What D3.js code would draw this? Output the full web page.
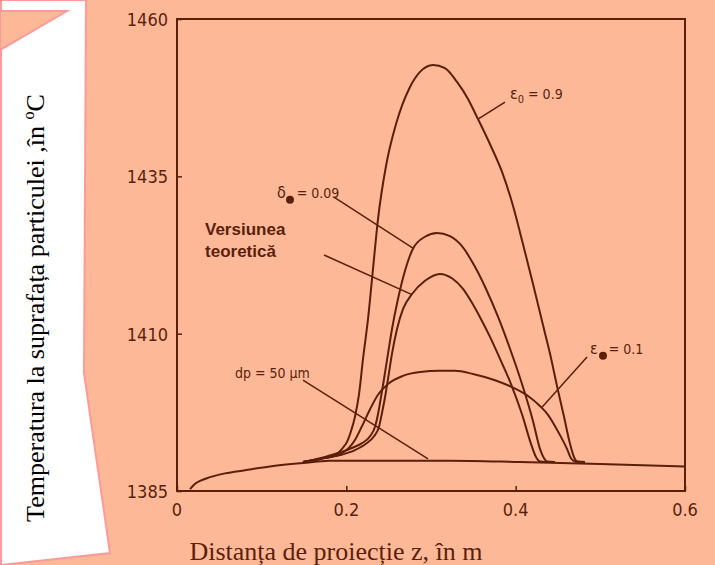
<!DOCTYPE html>
<html lang="ro">
<head>
<meta charset="UTF-8">
<title>Temperatura la suprafata particulei</title>
<script src="https://d3js.org/d3.v7.min.js"></script>
<style>
    body { margin: 0; background: #fdb997; }
    svg { display: block; }
    .tick-label { font-family: 'DejaVu Sans Condensed', sans-serif; font-size: 18px; fill: #5b1f0b; }
    .note { font-family: 'DejaVu Sans Condensed', sans-serif; font-size: 14px; fill: #5b1f0b; }
    .serif { font-family: 'Liberation Serif', 'Times New Roman', serif; }
</style>
</head>
<body>
<script>
// values: [z (m), T (°C)]
const xTicks = [0, 0.2, 0.4, 0.6];
const yTicks = [1385, 1410, 1435, 1460];

const dpCurve = [[0.0154,1385.3],[0.0201,1386.0],[0.0272,1386.6],[0.039,1387.2],[0.0567,1387.8],[0.0803,1388.3],
    [0.1098,1388.9],[0.1453,1389.4],[0.1807,1389.8],[0.2398,1389.8],[0.3224,1389.8],[0.4051,1389.6],[0.4996,1389.3],[0.6,1388.9]];

const eps09 = [[0.1488,1389.6],[0.1689,1390.1],[0.1866,1390.7],[0.1949,1391.7],[0.2008,1392.8],[0.2055,1394.5],[0.2102,1396.8],
    [0.215,1400.4],[0.2197,1406.0],[0.2256,1412.3],[0.2315,1420.3],[0.2374,1428.2],[0.2468,1436.6],[0.2587,1443.3],[0.2752,1449.2],
    [0.287,1451.6],[0.3024,1452.7],[0.3165,1452.2],[0.3307,1450.0],[0.3437,1447.3],[0.3555,1444.1],[0.3697,1440.1],[0.3839,1435.7],
    [0.3969,1430.3],[0.4087,1424.2],[0.4205,1417.9],[0.4311,1412.0],[0.4406,1406.8],[0.4488,1401.7],[0.4571,1396.8],[0.4642,1392.5],
    [0.4689,1390.4],[0.4724,1389.7],[0.4819,1389.6]];

const delta009 = [[0.1488,1389.6],[0.1689,1390.2],[0.1866,1390.9],[0.2043,1391.7],[0.2185,1392.6],[0.228,1393.7],[0.2339,1395.2],
    [0.2374,1397.2],[0.2409,1399.9],[0.2445,1402.8],[0.2492,1406.8],[0.2539,1410.7],[0.261,1415.5],[0.2693,1420.0],[0.2787,1423.5],
    [0.2929,1425.4],[0.3071,1426.0],[0.3224,1425.5],[0.3366,1423.9],[0.3508,1420.9],[0.365,1417.1],[0.3791,1412.7],[0.3933,1407.6],
    [0.4075,1402.0],[0.4205,1396.1],[0.4287,1391.7],[0.4335,1390.2],[0.437,1389.7],[0.4465,1389.6]];

const teoretic = [[0.1488,1389.6],[0.1689,1390.1],[0.1925,1390.7],[0.2102,1391.5],[0.2232,1392.5],[0.2327,1393.7],[0.2386,1395.2],
    [0.2421,1397.4],[0.2457,1399.9],[0.2492,1402.8],[0.2539,1406.8],[0.2598,1410.7],[0.2669,1413.9],[0.2776,1416.3],[0.2929,1418.4],
    [0.3106,1419.5],[0.3248,1418.8],[0.3378,1417.1],[0.3484,1414.9],[0.3591,1412.3],[0.3697,1409.5],[0.3815,1406.0],[0.3945,1402.0],
    [0.4075,1397.2],[0.4181,1392.5],[0.424,1390.4],[0.4287,1389.7],[0.437,1389.6]];

const eps01 = [[0.1488,1389.6],[0.1689,1390.1],[0.1807,1390.4],[0.1925,1390.9],[0.202,1391.7],[0.2102,1393.1],[0.2185,1395.3],
    [0.228,1398.0],[0.2374,1400.3],[0.2492,1402.0],[0.2669,1403.3],[0.287,1403.9],[0.3106,1404.1],[0.3283,1404.1],[0.3496,1403.6],
    [0.3756,1402.6],[0.3957,1401.5],[0.4146,1400.1],[0.4287,1398.5],[0.4382,1397.1],[0.4465,1395.3],[0.4535,1393.6],[0.4606,1391.7],
    [0.4653,1390.2],[0.4701,1389.7],[0.4783,1389.6]];

const curves = [dpCurve, eps09, delta009, teoretic, eps01];

const W = 715, H = 565;
const ink = "#5b1f0b";

const svg = d3.select("body").append("svg")
    .attr("width", W)
    .attr("height", H);

// white paper with folded corner behind the y label
svg.append("polygon")
    .attr("points", "1,0 86,0 84,373 110,553 1,565")
    .attr("fill", "#ffffff")
    .attr("stroke", "#ff9a9a")
    .attr("stroke-width", 2);
svg.append("polygon")
    .attr("points", "0,11 67,11 0,50")
    .attr("fill", "#fdb997")
    .attr("stroke", "#ff9a9a")
    .attr("stroke-width", 2);

const x = d3.scaleLinear().domain([0, 0.6]).range([177, 685]);
const y = d3.scaleLinear().domain([1385, 1460]).range([491, 19]);

// frame
svg.append("rect")
    .attr("x", x(0)).attr("y", y(1460))
    .attr("width", x(0.6) - x(0)).attr("height", y(1385) - y(1460))
    .attr("fill", "none").attr("stroke", ink).attr("stroke-width", 2);

// axes, ticks inward
const xAxis = svg.append("g")
    .attr("transform", `translate(0,${y(1385)})`)
    .call(d3.axisTop(x).tickValues(xTicks).tickSize(5).tickFormat(""));
const yAxis = svg.append("g")
    .attr("transform", `translate(${x(0)},0)`)
    .call(d3.axisRight(y).tickValues(yTicks).tickSize(5).tickFormat(""));
[xAxis, yAxis].forEach(g => {
    g.select(".domain").remove();
    g.selectAll("line").attr("stroke", ink).attr("stroke-width", 1.5);
});

svg.selectAll(".xl")
    .data(xTicks)
    .enter().append("text")
    .attr("class", "tick-label")
    .attr("x", d => x(d))
    .attr("y", 516)
    .attr("text-anchor", "middle")
    .text(d => d === 0 ? "0" : d.toFixed(1));

svg.selectAll(".yl")
    .data(yTicks)
    .enter().append("text")
    .attr("class", "tick-label")
    .attr("x", 168)
    .attr("y", d => y(d) + 7)
    .attr("text-anchor", "end")
    .text(d => d);

// curves
const line = d3.line()
    .x(d => x(d[0]))
    .y(d => y(d[1]))
    .curve(d3.curveMonotoneX);

svg.selectAll(".curve")
    .data(curves)
    .enter().append("path")
    .attr("d", line)
    .attr("fill", "none")
    .attr("stroke", ink)
    .attr("stroke-width", 2);

// leader lines
const leaders = [
    [[0.3874, 1446.8], [0.3555, 1444.1]],
    [[0.1854, 1431.7], [0.2787, 1423.6]],
    [[0.1736, 1422.5], [0.2776, 1416.2]],
    [[0.1488, 1402.6], [0.2965, 1390.1]],
    [[0.4843, 1406.3], [0.4311, 1398.3]]
];
svg.selectAll(".leader")
    .data(leaders)
    .enter().append("line")
    .attr("x1", d => x(d[0][0])).attr("y1", d => y(d[0][1]))
    .attr("x2", d => x(d[1][0])).attr("y2", d => y(d[1][1]))
    .attr("stroke", ink)
    .attr("stroke-width", 1.5);

// labels
const e0 = svg.append("text").attr("class", "note")
    .attr("x", x(0.3933)).attr("y", y(1447.3));
e0.append("tspan").attr("font-size", 16).text("ε");
e0.append("tspan").attr("dy", 4).attr("font-size", 11).text("0");
e0.append("tspan").attr("dy", -4).text(" = 0.9");

function dotLabel(sym, value, px, py) {
    const t = svg.append("text").attr("class", "note")
        .attr("x", x(px)).attr("y", y(py));
    t.append("tspan").attr("font-size", 16).text(sym);
    t.append("tspan").attr("dx", 11).text("= " + value);
    svg.append("circle")
        .attr("cx", x(px) + 13).attr("cy", y(py) + 2)
        .attr("r", 4).attr("fill", ink);
}
dotLabel("δ", "0.09", 0.1181, 1431.6);
dotLabel("ε", "0.1", 0.4878, 1406.8);

svg.append("text").attr("class", "note")
    .attr("x", x(0.0685)).attr("y", y(1403.0))
    .text("dp = 50 µm");

const teo = svg.append("text")
    .attr("font-family", "'Liberation Sans', Arial, sans-serif")
    .attr("font-weight", "bold")
    .attr("font-size", 17)
    .attr("fill", ink);
teo.append("tspan").attr("x", x(0.0331)).attr("y", y(1425.7)).text("Versiunea");
teo.append("tspan").attr("x", x(0.0331)).attr("y", y(1425.7) + 22).text("teoretică");

// axis titles
svg.append("text")
    .attr("class", "serif")
    .attr("font-size", 26)
    .attr("x", 336).attr("y", 560)
    .attr("text-anchor", "middle")
    .attr("fill", ink)
    .text("Distanța de proiecție z, în m");

const yt = svg.append("text")
    .attr("class", "serif")
    .attr("font-size", 26)
    .attr("transform", "translate(44,308) rotate(-90)")
    .attr("text-anchor", "middle")
    .attr("fill", "#000");
yt.append("tspan").text("Temperatura la suprafața particulei ,în ");
yt.append("tspan").attr("dy", -10).attr("font-size", 16).text("o");
yt.append("tspan").attr("dy", 10).text("C");
</script>
</body>
</html>
